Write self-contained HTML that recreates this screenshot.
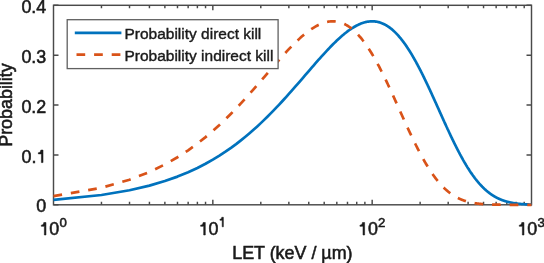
<!DOCTYPE html>
<html><head><meta charset="utf-8"><style>
html,body{margin:0;padding:0;background:#fff;overflow:hidden;}
svg{display:block;filter:blur(0.6px);}
text{font-family:"Liberation Sans",sans-serif;fill:#1a1a1a;stroke:#1a1a1a;stroke-width:0.55px;}
.g{fill:#1a1a1a;stroke:#1a1a1a;stroke-width:0.55px;vector-effect:non-scaling-stroke;}
</style></head><body>
<svg width="544" height="263" viewBox="0 0 544 263">
<rect x="0" y="0" width="544" height="263" fill="#fff"/>
<rect x="53.5" y="5.3" width="478.0" height="199.5" fill="none" stroke="#4a4a4a" stroke-width="1.45"/>
<path d="M53.50,204.80h5 M531.50,204.80h-5 M53.50,154.93h5 M531.50,154.93h-5 M53.50,105.05h5 M531.50,105.05h-5 M53.50,55.17h5 M531.50,55.17h-5 M53.50,5.30h5 M531.50,5.30h-5 M101.46,204.80v-3 M101.46,5.30v3 M129.52,204.80v-3 M129.52,5.30v3 M149.43,204.80v-3 M149.43,5.30v3 M164.87,204.80v-3 M164.87,5.30v3 M177.49,204.80v-3 M177.49,5.30v3 M188.15,204.80v-3 M188.15,5.30v3 M197.39,204.80v-3 M197.39,5.30v3 M205.54,204.80v-3 M205.54,5.30v3 M212.83,204.80v-5 M212.83,5.30v5 M260.80,204.80v-3 M260.80,5.30v3 M288.85,204.80v-3 M288.85,5.30v3 M308.76,204.80v-3 M308.76,5.30v3 M324.20,204.80v-3 M324.20,5.30v3 M336.82,204.80v-3 M336.82,5.30v3 M347.49,204.80v-3 M347.49,5.30v3 M356.73,204.80v-3 M356.73,5.30v3 M364.88,204.80v-3 M364.88,5.30v3 M372.17,204.80v-5 M372.17,5.30v5 M420.13,204.80v-3 M420.13,5.30v3 M448.19,204.80v-3 M448.19,5.30v3 M468.09,204.80v-3 M468.09,5.30v3 M483.54,204.80v-3 M483.54,5.30v3 M496.15,204.80v-3 M496.15,5.30v3 M506.82,204.80v-3 M506.82,5.30v3 M516.06,204.80v-3 M516.06,5.30v3 M524.21,204.80v-3 M524.21,5.30v3" fill="none" stroke="#4a4a4a" stroke-width="1.45"/>
<path d="M53.50,199.86 L101.46,195.02 L129.52,190.28 L149.43,185.63 L164.87,181.08 L177.49,176.62 L188.15,172.25 L197.39,167.97 L205.54,163.78 L212.83,159.67 L219.43,155.65 L225.45,151.72 L230.99,147.87 L236.12,144.10 L240.89,140.41 L245.36,136.80 L249.55,133.27 L253.51,129.81 L257.25,126.44 L260.80,123.13 L264.17,119.90 L267.39,116.74 L270.47,113.66 L273.41,110.64 L276.24,107.69 L278.95,104.81 L281.56,102.00 L284.08,99.25 L286.51,96.57 L288.85,93.96 L291.12,91.40 L293.32,88.91 L295.45,86.47 L297.52,84.10 L299.52,81.79 L301.47,79.53 L303.37,77.33 L305.21,75.19 L307.01,73.10 L308.76,71.07 L310.47,69.09 L312.14,67.17 L313.77,65.29 L315.36,63.47 L316.91,61.69 L318.43,59.97 L319.92,58.29 L321.38,56.66 L322.80,55.08 L324.20,53.55 L325.57,52.06 L326.92,50.61 L328.23,49.21 L329.53,47.85 L330.80,46.54 L332.04,45.26 L333.27,44.03 L334.47,42.84 L335.66,41.68 L336.82,40.57 L337.96,39.49 L339.09,38.45 L340.19,37.45 L341.28,36.49 L342.36,35.56 L343.41,34.67 L344.45,33.81 L345.48,32.98 L346.49,32.19 L347.49,31.43 L348.47,30.70 L349.43,30.01 L350.39,29.34 L351.33,28.71 L352.26,28.11 L353.18,27.53 L354.08,26.99 L354.97,26.47 L355.86,25.98 L356.73,25.52 L357.59,25.08 L358.43,24.67 L359.27,24.29 L360.10,23.93 L360.92,23.60 L361.73,23.30 L362.53,23.01 L363.32,22.75 L364.10,22.52 L364.88,22.30 L365.64,22.11 L366.40,21.94 L367.14,21.79 L367.89,21.66 L368.62,21.56 L369.34,21.47 L370.06,21.40 L370.77,21.36 L371.47,21.33 L372.17,21.32 L372.86,21.33 L373.54,21.36 L374.21,21.40 L374.88,21.46 L375.54,21.54 L376.20,21.64 L376.85,21.75 L377.49,21.88 L378.13,22.02 L378.76,22.18 L379.39,22.35 L380.01,22.54 L380.62,22.74 L381.23,22.96 L381.84,23.19 L382.44,23.43 L383.03,23.69 L383.62,23.96 L384.20,24.24 L384.78,24.54 L385.36,24.84 L385.93,25.16 L386.49,25.49 L387.05,25.83 L387.61,26.18 L388.16,26.54 L388.71,26.92 L389.25,27.30 L389.79,27.69 L390.32,28.10 L390.85,28.51 L391.38,28.93 L391.90,29.36 L392.42,29.80 L392.93,30.25 L393.44,30.71 L393.95,31.17 L394.45,31.64 L394.95,32.13 L395.45,32.61 L395.94,33.11 L396.43,33.61 L396.92,34.12 L397.40,34.64 L397.88,35.16 L398.35,35.69 L398.83,36.23 L399.30,36.77 L399.76,37.32 L400.22,37.87 L400.68,38.43 L401.14,38.99 L401.59,39.56 L402.04,40.14 L402.49,40.72 L402.94,41.30 L403.38,41.89 L403.82,42.49 L404.26,43.08 L404.69,43.69 L405.12,44.29 L405.55,44.90 L405.98,45.52 L406.40,46.13 L406.82,46.75 L407.24,47.38 L407.65,48.01 L408.07,48.64 L408.48,49.27 L408.88,49.91 L409.29,50.55 L409.69,51.19 L410.10,51.83 L410.49,52.48 L410.89,53.13 L411.29,53.78 L411.68,54.43 L412.07,55.09 L412.45,55.74 L412.84,56.40 L413.22,57.06 L413.60,57.73 L413.98,58.39 L414.36,59.05 L414.74,59.72 L415.11,60.39 L415.48,61.05 L415.85,61.72 L416.22,62.39 L416.58,63.07 L416.94,63.74 L417.31,64.41 L417.67,65.08 L418.02,65.76 L418.38,66.43 L418.73,67.10 L419.08,67.78 L419.44,68.45 L419.78,69.13 L420.13,69.80 L420.48,70.48 L420.82,71.15 L421.16,71.83 L421.50,72.50 L421.84,73.18 L422.18,73.85 L422.51,74.52 L422.84,75.20 L423.18,75.87 L423.51,76.54 L423.84,77.21 L424.16,77.88 L424.49,78.55 L424.81,79.22 L425.14,79.89 L425.46,80.56 L425.78,81.23 L426.09,81.89 L426.41,82.56 L426.73,83.22 L427.04,83.88 L427.35,84.55 L427.66,85.21 L427.97,85.86 L428.28,86.52 L428.59,87.18 L428.89,87.83 L429.20,88.49 L429.50,89.14 L429.80,89.79 L430.10,90.44 L430.40,91.09 L430.70,91.73 L431.00,92.38 L431.29,93.02 L431.58,93.66 L431.88,94.30 L432.17,94.94 L432.46,95.58 L432.75,96.21 L433.03,96.84 L433.32,97.47 L433.61,98.10 L433.89,98.73 L434.17,99.35 L434.46,99.98 L434.74,100.60 L435.02,101.22 L435.29,101.84 L435.57,102.45 L435.85,103.06 L436.12,103.67 L436.40,104.28 L436.67,104.89 L436.94,105.49 L437.21,106.10 L437.48,106.70 L437.75,107.30 L438.02,107.89 L438.29,108.49 L438.55,109.08 L438.82,109.67 L439.08,110.25 L439.34,110.84 L439.60,111.42 L439.86,112.00 L440.12,112.58 L440.38,113.16 L440.64,113.73 L440.90,114.30 L441.15,114.87 L441.41,115.43 L441.66,116.00 L441.91,116.56 L442.17,117.12 L442.42,117.68 L442.67,118.23 L442.92,118.78 L443.17,119.33 L443.41,119.88 L443.66,120.42 L443.91,120.97 L444.15,121.51 L444.40,122.04 L444.64,122.58 L444.88,123.11 L445.12,123.64 L445.36,124.17 L445.60,124.69 L445.84,125.22 L446.08,125.74 L446.32,126.25 L446.55,126.77 L446.79,127.28 L447.02,127.79 L447.26,128.30 L447.49,128.81 L447.73,129.31 L447.96,129.81 L448.19,130.31 L448.42,130.80 L448.65,131.29 L448.88,131.78 L449.10,132.27 L449.33,132.76 L449.56,133.24 L449.78,133.72 L450.01,134.20 L450.23,134.68 L450.46,135.15 L450.68,135.62 L450.90,136.09 L451.12,136.55 L451.34,137.02 L451.56,137.48 L451.78,137.93 L452.00,138.39 L452.22,138.84 L452.44,139.30 L452.65,139.74 L452.87,140.19 L453.09,140.63 L453.30,141.07 L453.51,141.51 L453.73,141.95 L453.94,142.38 L454.15,142.81 L454.36,143.24 L454.57,143.67 L454.78,144.09 L454.99,144.52 L455.20,144.94 L455.41,145.35 L455.62,145.77 L455.82,146.18 L456.03,146.59 L456.24,147.00 L456.44,147.40 L456.65,147.81 L456.85,148.21 L457.05,148.61 L457.25,149.00 L457.46,149.40 L457.66,149.79 L457.86,150.18 L458.06,150.56 L458.26,150.95 L458.46,151.33 L458.66,151.71 L458.85,152.09 L459.05,152.46 L459.25,152.84 L459.45,153.21 L459.64,153.57 L459.84,153.94 L460.03,154.31 L460.23,154.67 L460.42,155.03 L460.61,155.38 L460.80,155.74 L461.00,156.09 L461.19,156.44 L461.38,156.79 L461.57,157.14 L461.76,157.48 L461.95,157.83 L462.14,158.17 L462.33,158.51 L462.51,158.84 L462.70,159.18 L462.89,159.51 L463.07,159.84 L463.26,160.17 L463.44,160.49 L463.63,160.81 L463.81,161.14 L464.00,161.46 L464.18,161.77 L464.36,162.09 L464.55,162.40 L464.73,162.71 L464.91,163.02 L465.09,163.33 L465.27,163.64 L465.45,163.94 L465.63,164.24 L465.81,164.54 L465.99,164.84 L466.17,165.13 L466.34,165.43 L466.52,165.72 L466.70,166.01 L466.87,166.30 L467.05,166.58 L467.22,166.87 L467.40,167.15 L467.57,167.43 L467.75,167.71 L467.92,167.99 L468.09,168.26 L468.27,168.53 L468.44,168.80 L468.61,169.07 L468.78,169.34 L468.95,169.61 L469.13,169.87 L469.30,170.13 L469.47,170.39 L469.63,170.65 L469.80,170.91 L469.97,171.17 L470.14,171.42 L470.31,171.67 L470.48,171.92 L470.64,172.17 L470.81,172.42 L470.98,172.66 L471.14,172.91 L471.31,173.15 L471.47,173.39 L471.64,173.63 L471.80,173.86 L471.96,174.10 L472.13,174.33 L472.29,174.56 L472.45,174.79 L472.61,175.02 L472.78,175.25 L472.94,175.48 L473.10,175.70 L473.26,175.92 L473.42,176.14 L473.58,176.36 L473.74,176.58 L473.90,176.80 L474.06,177.01 L474.22,177.23 L474.37,177.44 L474.53,177.65 L474.69,177.86 L474.85,178.06 L475.00,178.27 L475.16,178.48 L475.32,178.68 L475.47,178.88 L475.63,179.08 L475.78,179.28 L475.94,179.48 L476.09,179.67 L476.25,179.87 L476.40,180.06 L476.55,180.25 L476.70,180.44 L476.86,180.63 L477.01,180.82 L477.16,181.01 L477.31,181.19 L477.46,181.37 L477.62,181.56 L477.77,181.74 L477.92,181.92 L478.07,182.10 L478.22,182.27 L478.37,182.45 L478.51,182.62 L478.66,182.80 L478.81,182.97 L478.96,183.14 L479.11,183.31 L479.25,183.48 L479.40,183.65 L479.55,183.81 L479.69,183.98 L479.84,184.14 L479.99,184.30 L480.13,184.46 L480.28,184.62 L480.42,184.78 L480.57,184.94 L480.71,185.10 L480.86,185.25 L481.00,185.41 L481.14,185.56 L481.29,185.71 L481.43,185.86 L481.57,186.01 L481.71,186.16 L481.85,186.31 L482.00,186.46 L482.14,186.60 L482.28,186.75 L482.42,186.89 L482.56,187.03 L482.70,187.17 L482.84,187.31 L482.98,187.45 L483.12,187.59 L483.26,187.73 L483.40,187.86 L483.54,188.00 L483.67,188.13 L483.81,188.26 L483.95,188.40 L484.09,188.53 L484.22,188.66 L484.36,188.79 L484.50,188.91 L484.63,189.04 L484.77,189.17 L484.91,189.29 L485.04,189.42 L485.18,189.54 L485.31,189.66 L485.45,189.78 L485.58,189.90 L485.72,190.02 L485.85,190.14 L485.98,190.26 L486.12,190.38 L486.25,190.49 L486.38,190.61 L486.52,190.72 L486.65,190.84 L486.78,190.95 L486.91,191.06 L487.04,191.17 L487.18,191.28 L487.31,191.39 L487.44,191.50 L487.57,191.61 L487.70,191.71 L487.83,191.82 L487.96,191.92 L488.09,192.03 L488.22,192.13 L488.35,192.23 L488.48,192.33 L488.60,192.44 L488.73,192.54 L488.86,192.64 L488.99,192.73 L489.12,192.83 L489.24,192.93 L489.37,193.03 L489.50,193.12 L489.63,193.22 L489.75,193.31 L489.88,193.40 L490.01,193.50 L490.13,193.59 L490.26,193.68 L490.38,193.77 L490.51,193.86 L490.63,193.95 L490.76,194.04 L490.88,194.13 L491.01,194.21 L491.13,194.30 L491.25,194.39 L491.38,194.47 L491.50,194.56 L491.62,194.64 L491.75,194.72 L491.87,194.81 L491.99,194.89 L492.12,194.97 L492.24,195.05 L492.36,195.13 L492.48,195.21 L492.60,195.29 L492.72,195.37 L492.85,195.44 L492.97,195.52 L493.09,195.60 L493.21,195.67 L493.33,195.75 L493.45,195.82 L493.57,195.90 L493.69,195.97 L493.81,196.04 L493.93,196.11 L494.04,196.19 L494.16,196.26 L494.28,196.33 L494.40,196.40 L494.52,196.47 L494.64,196.54 L494.75,196.60 L494.87,196.67 L494.99,196.74 L495.11,196.81 L495.22,196.87 L495.34,196.94 L495.46,197.00 L495.57,197.07 L495.69,197.13 L495.81,197.19 L495.92,197.26 L496.04,197.32 L496.15,197.38 L496.27,197.44 L496.38,197.50 L496.50,197.57 L496.61,197.63 L496.73,197.69 L496.84,197.74 L496.95,197.80 L497.07,197.86 L497.18,197.92 L497.30,197.98 L497.41,198.03 L497.52,198.09 L497.64,198.15 L497.75,198.20 L497.86,198.26 L497.97,198.31 L498.09,198.36 L498.20,198.42 L498.31,198.47 L498.42,198.52 L498.53,198.58 L498.64,198.63 L498.76,198.68 L498.87,198.73 L498.98,198.78 L499.09,198.83 L499.20,198.88 L499.31,198.93 L499.42,198.98 L499.53,199.03 L499.64,199.08 L499.75,199.13 L499.86,199.17 L499.97,199.22 L500.08,199.27 L500.18,199.31 L500.29,199.36 L500.40,199.41 L500.51,199.45 L500.62,199.50 L500.73,199.54 L500.83,199.59 L500.94,199.63 L501.05,199.67 L501.16,199.72 L501.26,199.76 L501.37,199.80 L501.48,199.84 L501.58,199.88 L501.69,199.93 L501.80,199.97 L501.90,200.01 L502.01,200.05 L502.12,200.09 L502.22,200.13 L502.33,200.17 L502.43,200.21 L502.54,200.25 L502.64,200.28 L502.75,200.32 L502.85,200.36 L502.96,200.40 L503.06,200.43 L503.17,200.47 L503.27,200.51 L503.37,200.54 L503.48,200.58 L503.58,200.62 L503.68,200.65 L503.79,200.69 L503.89,200.72 L503.99,200.76 L504.10,200.79 L504.20,200.82 L504.30,200.86 L504.40,200.89 L504.51,200.92 L504.61,200.96 L504.71,200.99 L504.81,201.02 L504.91,201.05 L505.02,201.09 L505.12,201.12 L505.22,201.15 L505.32,201.18 L505.42,201.21 L505.52,201.24 L505.62,201.27 L505.72,201.30 L505.82,201.33 L505.92,201.36 L506.02,201.39 L506.12,201.42 L506.22,201.45 L506.32,201.48 L506.42,201.51 L506.52,201.53 L506.62,201.56 L506.72,201.59 L506.82,201.62 L506.92,201.64 L507.02,201.67 L507.11,201.70 L507.21,201.72 L507.31,201.75 L507.41,201.78 L507.51,201.80 L507.61,201.83 L507.70,201.85 L507.80,201.88 L507.90,201.90 L508.00,201.93 L508.09,201.95 L508.19,201.98 L508.29,202.00 L508.38,202.03 L508.48,202.05 L508.58,202.07 L508.67,202.10 L508.77,202.12 L508.86,202.14 L508.96,202.16 L509.06,202.19 L509.15,202.21 L509.25,202.23 L509.34,202.25 L509.44,202.28 L509.53,202.30 L509.63,202.32 L509.72,202.34 L509.82,202.36 L509.91,202.38 L510.01,202.40 L510.10,202.42 L510.20,202.44 L510.29,202.46 L510.38,202.48 L510.48,202.50 L510.57,202.52 L510.66,202.54 L510.76,202.56 L510.85,202.58 L510.94,202.60 L511.04,202.62 L511.13,202.64 L511.22,202.66 L511.32,202.68 L511.41,202.69 L511.50,202.71 L511.59,202.73 L511.69,202.75 L511.78,202.77 L511.87,202.78 L511.96,202.80 L512.05,202.82 L512.14,202.84 L512.24,202.85 L512.33,202.87 L512.42,202.89 L512.51,202.90 L512.60,202.92 L512.69,202.94 L512.78,202.95 L512.87,202.97 L512.96,202.98 L513.05,203.00 L513.14,203.01 L513.23,203.03 L513.32,203.05 L513.41,203.06 L513.50,203.08 L513.59,203.09 L513.68,203.11 L513.77,203.12 L513.86,203.14 L513.95,203.15 L514.04,203.16 L514.13,203.18 L514.22,203.19 L514.31,203.21 L514.40,203.22 L514.48,203.23 L514.57,203.25 L514.66,203.26 L514.75,203.27 L514.84,203.29 L514.93,203.30 L515.01,203.31 L515.10,203.33 L515.19,203.34 L515.28,203.35 L515.36,203.36 L515.45,203.38 L515.54,203.39 L515.63,203.40 L515.71,203.41 L515.80,203.43 L515.89,203.44 L515.97,203.45 L516.06,203.46 L516.15,203.47 L516.23,203.48 L516.32,203.50 L516.40,203.51 L516.49,203.52 L516.58,203.53 L516.66,203.54 L516.75,203.55 L516.83,203.56 L516.92,203.57 L517.00,203.58 L517.09,203.60 L517.17,203.61 L517.26,203.62 L517.34,203.63 L517.43,203.64 L517.51,203.65 L517.60,203.66 L517.68,203.67 L517.77,203.68 L517.85,203.69 L517.94,203.70 L518.02,203.71 L518.10,203.72 L518.19,203.73 L518.27,203.73 L518.36,203.74 L518.44,203.75 L518.52,203.76 L518.61,203.77 L518.69,203.78 L518.77,203.79 L518.86,203.80 L518.94,203.81 L519.02,203.82 L519.10,203.82 L519.19,203.83 L519.27,203.84 L519.35,203.85 L519.44,203.86 L519.52,203.87 L519.60,203.87 L519.68,203.88 L519.76,203.89 L519.85,203.90 L519.93,203.91 L520.01,203.91 L520.09,203.92 L520.17,203.93 L520.25,203.94 L520.34,203.94 L520.42,203.95 L520.50,203.96 L520.58,203.97 L520.66,203.97 L520.74,203.98 L520.82,203.99 L520.90,204.00 L520.98,204.00 L521.06,204.01 L521.14,204.02 L521.22,204.02 L521.30,204.03 L521.38,204.04 L521.46,204.04 L521.54,204.05 L521.62,204.06 L521.70,204.06 L521.78,204.07 L521.86,204.08 L521.94,204.08 L522.02,204.09 L522.10,204.10 L522.18,204.10 L522.26,204.11 L522.34,204.11 L522.42,204.12 L522.50,204.13 L522.58,204.13 L522.65,204.14 L522.73,204.14 L522.81,204.15 L522.89,204.16 L522.97,204.16 L523.05,204.17 L523.12,204.17 L523.20,204.18 L523.28,204.18 L523.36,204.19 L523.44,204.19 L523.51,204.20 L523.59,204.21 L523.67,204.21 L523.75,204.22 L523.82,204.22 L523.90,204.23 L523.98,204.23 L524.06,204.24 L524.13,204.24 L524.21,204.25 L524.29,204.25 L524.36,204.26 L524.44,204.26 L524.52,204.27 L524.59,204.27 L524.67,204.27 L524.75,204.28 L524.82,204.28 L524.90,204.29 L524.97,204.29 L525.05,204.30 L525.13,204.30 L525.20,204.31 L525.28,204.31 L525.35,204.32 L525.43,204.32 L525.50,204.32 L525.58,204.33 L525.65,204.33 L525.73,204.34 L525.81,204.34 L525.88,204.34 L525.96,204.35 L526.03,204.35 L526.11,204.36 L526.18,204.36 L526.25,204.36 L526.33,204.37 L526.40,204.37 L526.48,204.38 L526.55,204.38 L526.63,204.38 L526.70,204.39 L526.78,204.39 L526.85,204.39 L526.92,204.40 L527.00,204.40 L527.07,204.41 L527.14,204.41 L527.22,204.41 L527.29,204.42 L527.37,204.42 L527.44,204.42 L527.51,204.43 L527.59,204.43 L527.66,204.43 L527.73,204.44 L527.80,204.44 L527.88,204.44 L527.95,204.45 L528.02,204.45 L528.10,204.45 L528.17,204.45 L528.24,204.46 L528.31,204.46 L528.39,204.46 L528.46,204.47 L528.53,204.47 L528.60,204.47 L528.68,204.48 L528.75,204.48 L528.82,204.48 L528.89,204.48 L528.96,204.49 L529.03,204.49 L529.11,204.49 L529.18,204.50 L529.25,204.50 L529.32,204.50 L529.39,204.50 L529.46,204.51 L529.53,204.51 L529.61,204.51 L529.68,204.51 L529.75,204.52 L529.82,204.52 L529.89,204.52 L529.96,204.52 L530.03,204.53 L530.10,204.53 L530.17,204.53 L530.24,204.53 L530.31,204.54 L530.38,204.54 L530.45,204.54 L530.52,204.54 L530.59,204.55 L530.66,204.55 L530.73,204.55 L530.80,204.55 L530.87,204.55 L530.94,204.56 L531.01,204.56 L531.08,204.56 L531.15,204.56 L531.22,204.57 L531.29,204.57 L531.36,204.57 L531.43,204.57 L531.50,204.57" fill="none" stroke="#0072BD" stroke-width="2.7" stroke-linejoin="round"/>
<path d="M53.50,196.14 L101.46,187.79 L129.52,179.73 L149.43,171.96 L164.87,164.47 L177.49,157.25 L188.15,150.29 L197.39,143.60 L205.54,137.15 L212.83,130.95 L219.43,124.99 L225.45,119.26 L230.99,113.75 L236.12,108.47 L240.89,103.39 L245.36,98.53 L249.55,93.86 L253.51,89.40 L257.25,85.12 L260.80,81.02 L264.17,77.11 L267.39,73.37 L270.47,69.81 L273.41,66.40 L276.24,63.16 L278.95,60.08 L281.56,57.14 L284.08,54.35 L286.51,51.71 L288.85,49.20 L291.12,46.83 L293.32,44.59 L295.45,42.48 L297.52,40.49 L299.52,38.62 L301.47,36.87 L303.37,35.22 L305.21,33.69 L307.01,32.26 L308.76,30.94 L310.47,29.71 L312.14,28.58 L313.77,27.55 L315.36,26.60 L316.91,25.74 L318.43,24.97 L319.92,24.28 L321.38,23.67 L322.80,23.13 L324.20,22.67 L325.57,22.28 L326.92,21.96 L328.23,21.71 L329.53,21.52 L330.80,21.39 L332.04,21.33 L333.27,21.32 L334.47,21.38 L335.66,21.48 L336.82,21.64 L337.96,21.85 L339.09,22.10 L340.19,22.41 L341.28,22.76 L342.36,23.15 L343.41,23.59 L344.45,24.06 L345.48,24.58 L346.49,25.13 L347.49,25.72 L348.47,26.34 L349.43,27.00 L350.39,27.68 L351.33,28.40 L352.26,29.15 L353.18,29.92 L354.08,30.73 L354.97,31.55 L355.86,32.41 L356.73,33.28 L357.59,34.18 L358.43,35.10 L359.27,36.04 L360.10,36.99 L360.92,37.97 L361.73,38.96 L362.53,39.97 L363.32,41.00 L364.10,42.04 L364.88,43.09 L365.64,44.16 L366.40,45.24 L367.14,46.33 L367.89,47.43 L368.62,48.54 L369.34,49.66 L370.06,50.79 L370.77,51.93 L371.47,53.07 L372.17,54.22 L372.86,55.38 L373.54,56.54 L374.21,57.71 L374.88,58.88 L375.54,60.06 L376.20,61.24 L376.85,62.42 L377.49,63.61 L378.13,64.80 L378.76,65.99 L379.39,67.18 L380.01,68.37 L380.62,69.56 L381.23,70.76 L381.84,71.95 L382.44,73.14 L383.03,74.33 L383.62,75.52 L384.20,76.71 L384.78,77.89 L385.36,79.08 L385.93,80.26 L386.49,81.44 L387.05,82.61 L387.61,83.78 L388.16,84.95 L388.71,86.12 L389.25,87.28 L389.79,88.43 L390.32,89.58 L390.85,90.73 L391.38,91.87 L391.90,93.01 L392.42,94.14 L392.93,95.27 L393.44,96.39 L393.95,97.50 L394.45,98.61 L394.95,99.72 L395.45,100.82 L395.94,101.91 L396.43,102.99 L396.92,104.07 L397.40,105.14 L397.88,106.21 L398.35,107.27 L398.83,108.32 L399.30,109.36 L399.76,110.40 L400.22,111.43 L400.68,112.46 L401.14,113.47 L401.59,114.48 L402.04,115.48 L402.49,116.48 L402.94,117.46 L403.38,118.44 L403.82,119.41 L404.26,120.38 L404.69,121.34 L405.12,122.29 L405.55,123.23 L405.98,124.16 L406.40,125.09 L406.82,126.01 L407.24,126.92 L407.65,127.82 L408.07,128.71 L408.48,129.60 L408.88,130.48 L409.29,131.35 L409.69,132.22 L410.10,133.07 L410.49,133.92 L410.89,134.76 L411.29,135.60 L411.68,136.42 L412.07,137.24 L412.45,138.05 L412.84,138.85 L413.22,139.65 L413.60,140.44 L413.98,141.22 L414.36,141.99 L414.74,142.75 L415.11,143.51 L415.48,144.26 L415.85,145.00 L416.22,145.74 L416.58,146.46 L416.94,147.18 L417.31,147.90 L417.67,148.60 L418.02,149.30 L418.38,149.99 L418.73,150.67 L419.08,151.35 L419.44,152.02 L419.78,152.68 L420.13,153.34 L420.48,153.99 L420.82,154.63 L421.16,155.26 L421.50,155.89 L421.84,156.51 L422.18,157.13 L422.51,157.73 L422.84,158.33 L423.18,158.93 L423.51,159.52 L423.84,160.10 L424.16,160.67 L424.49,161.24 L424.81,161.80 L425.14,162.36 L425.46,162.91 L425.78,163.45 L426.09,163.99 L426.41,164.52 L426.73,165.04 L427.04,165.56 L427.35,166.07 L427.66,166.58 L427.97,167.08 L428.28,167.58 L428.59,168.07 L428.89,168.55 L429.20,169.03 L429.50,169.50 L429.80,169.97 L430.10,170.43 L430.40,170.88 L430.70,171.33 L431.00,171.78 L431.29,172.22 L431.58,172.65 L431.88,173.08 L432.17,173.51 L432.46,173.93 L432.75,174.34 L433.03,174.75 L433.32,175.15 L433.61,175.55 L433.89,175.94 L434.17,176.33 L434.46,176.72 L434.74,177.10 L435.02,177.47 L435.29,177.84 L435.57,178.21 L435.85,178.57 L436.12,178.93 L436.40,179.28 L436.67,179.63 L436.94,179.97 L437.21,180.31 L437.48,180.64 L437.75,180.97 L438.02,181.30 L438.29,181.62 L438.55,181.94 L438.82,182.26 L439.08,182.57 L439.34,182.87 L439.60,183.18 L439.86,183.47 L440.12,183.77 L440.38,184.06 L440.64,184.35 L440.90,184.63 L441.15,184.91 L441.41,185.19 L441.66,185.46 L441.91,185.73 L442.17,185.99 L442.42,186.26 L442.67,186.51 L442.92,186.77 L443.17,187.02 L443.41,187.27 L443.66,187.52 L443.91,187.76 L444.15,188.00 L444.40,188.23 L444.64,188.47 L444.88,188.70 L445.12,188.92 L445.36,189.15 L445.60,189.37 L445.84,189.58 L446.08,189.80 L446.32,190.01 L446.55,190.22 L446.79,190.43 L447.02,190.63 L447.26,190.83 L447.49,191.03 L447.73,191.23 L447.96,191.42 L448.19,191.61 L448.42,191.80 L448.65,191.98 L448.88,192.16 L449.10,192.35 L449.33,192.52 L449.56,192.70 L449.78,192.87 L450.01,193.04 L450.23,193.21 L450.46,193.38 L450.68,193.54 L450.90,193.70 L451.12,193.86 L451.34,194.02 L451.56,194.17 L451.78,194.33 L452.00,194.48 L452.22,194.63 L452.44,194.77 L452.65,194.92 L452.87,195.06 L453.09,195.20 L453.30,195.34 L453.51,195.48 L453.73,195.61 L453.94,195.75 L454.15,195.88 L454.36,196.01 L454.57,196.13 L454.78,196.26 L454.99,196.38 L455.20,196.51 L455.41,196.63 L455.62,196.75 L455.82,196.86 L456.03,196.98 L456.24,197.09 L456.44,197.21 L456.65,197.32 L456.85,197.43 L457.05,197.53 L457.25,197.64 L457.46,197.74 L457.66,197.85 L457.86,197.95 L458.06,198.05 L458.26,198.15 L458.46,198.25 L458.66,198.34 L458.85,198.44 L459.05,198.53 L459.25,198.62 L459.45,198.72 L459.64,198.80 L459.84,198.89 L460.03,198.98 L460.23,199.07 L460.42,199.15 L460.61,199.23 L460.80,199.32 L461.00,199.40 L461.19,199.48 L461.38,199.56 L461.57,199.63 L461.76,199.71 L461.95,199.79 L462.14,199.86 L462.33,199.93 L462.51,200.01 L462.70,200.08 L462.89,200.15 L463.07,200.22 L463.26,200.28 L463.44,200.35 L463.63,200.42 L463.81,200.48 L464.00,200.55 L464.18,200.61 L464.36,200.67 L464.55,200.73 L464.73,200.80 L464.91,200.86 L465.09,200.91 L465.27,200.97 L465.45,201.03 L465.63,201.09 L465.81,201.14 L465.99,201.20 L466.17,201.25 L466.34,201.30 L466.52,201.36 L466.70,201.41 L466.87,201.46 L467.05,201.51 L467.22,201.56 L467.40,201.61 L467.57,201.65 L467.75,201.70 L467.92,201.75 L468.09,201.79 L468.27,201.84 L468.44,201.88 L468.61,201.93 L468.78,201.97 L468.95,202.01 L469.13,202.06 L469.30,202.10 L469.47,202.14 L469.63,202.18 L469.80,202.22 L469.97,202.26 L470.14,202.30 L470.31,202.33 L470.48,202.37 L470.64,202.41 L470.81,202.44 L470.98,202.48 L471.14,202.51 L471.31,202.55 L471.47,202.58 L471.64,202.62 L471.80,202.65 L471.96,202.68 L472.13,202.72 L472.29,202.75 L472.45,202.78 L472.61,202.81 L472.78,202.84 L472.94,202.87 L473.10,202.90 L473.26,202.93 L473.42,202.96 L473.58,202.98 L473.74,203.01 L473.90,203.04 L474.06,203.07 L474.22,203.09 L474.37,203.12 L474.53,203.14 L474.69,203.17 L474.85,203.19 L475.00,203.22 L475.16,203.24 L475.32,203.27 L475.47,203.29 L475.63,203.31 L475.78,203.34 L475.94,203.36 L476.09,203.38 L476.25,203.40 L476.40,203.42 L476.55,203.44 L476.70,203.47 L476.86,203.49 L477.01,203.51 L477.16,203.53 L477.31,203.55 L477.46,203.56 L477.62,203.58 L477.77,203.60 L477.92,203.62 L478.07,203.64 L478.22,203.66 L478.37,203.67 L478.51,203.69 L478.66,203.71 L478.81,203.73 L478.96,203.74 L479.11,203.76 L479.25,203.77 L479.40,203.79 L479.55,203.81 L479.69,203.82 L479.84,203.84 L479.99,203.85 L480.13,203.87 L480.28,203.88 L480.42,203.89 L480.57,203.91 L480.71,203.92 L480.86,203.94 L481.00,203.95 L481.14,203.96 L481.29,203.98 L481.43,203.99 L481.57,204.00 L481.71,204.01 L481.85,204.03 L482.00,204.04 L482.14,204.05 L482.28,204.06 L482.42,204.07 L482.56,204.08 L482.70,204.09 L482.84,204.11 L482.98,204.12 L483.12,204.13 L483.26,204.14 L483.40,204.15 L483.54,204.16 L483.67,204.17 L483.81,204.18 L483.95,204.19 L484.09,204.20 L484.22,204.21 L484.36,204.22 L484.50,204.22 L484.63,204.23 L484.77,204.24 L484.91,204.25 L485.04,204.26 L485.18,204.27 L485.31,204.28 L485.45,204.28 L485.58,204.29 L485.72,204.30 L485.85,204.31 L485.98,204.32 L486.12,204.32 L486.25,204.33 L486.38,204.34 L486.52,204.35 L486.65,204.35 L486.78,204.36 L486.91,204.37 L487.04,204.37 L487.18,204.38 L487.31,204.39 L487.44,204.39 L487.57,204.40 L487.70,204.41 L487.83,204.41 L487.96,204.42 L488.09,204.42 L488.22,204.43 L488.35,204.44 L488.48,204.44 L488.60,204.45 L488.73,204.45 L488.86,204.46 L488.99,204.46 L489.12,204.47 L489.24,204.47 L489.37,204.48 L489.50,204.48 L489.63,204.49 L489.75,204.49 L489.88,204.50 L490.01,204.50 L490.13,204.51 L490.26,204.51 L490.38,204.52 L490.51,204.52 L490.63,204.53 L490.76,204.53 L490.88,204.53 L491.01,204.54 L491.13,204.54 L491.25,204.55 L491.38,204.55 L491.50,204.55 L491.62,204.56 L491.75,204.56 L491.87,204.57 L491.99,204.57 L492.12,204.57 L492.24,204.58 L492.36,204.58 L492.48,204.58 L492.60,204.59 L492.72,204.59 L492.85,204.59 L492.97,204.60 L493.09,204.60 L493.21,204.60 L493.33,204.61 L493.45,204.61 L493.57,204.61 L493.69,204.62 L493.81,204.62 L493.93,204.62 L494.04,204.62 L494.16,204.63 L494.28,204.63 L494.40,204.63 L494.52,204.64 L494.64,204.64 L494.75,204.64 L494.87,204.64 L494.99,204.65 L495.11,204.65 L495.22,204.65 L495.34,204.65 L495.46,204.66 L495.57,204.66 L495.69,204.66 L495.81,204.66 L495.92,204.66 L496.04,204.67 L496.15,204.67 L496.27,204.67 L496.38,204.67 L496.50,204.67 L496.61,204.68 L496.73,204.68 L496.84,204.68 L496.95,204.68 L497.07,204.68 L497.18,204.69 L497.30,204.69 L497.41,204.69 L497.52,204.69 L497.64,204.69 L497.75,204.69 L497.86,204.70 L497.97,204.70 L498.09,204.70 L498.20,204.70 L498.31,204.70 L498.42,204.70 L498.53,204.71 L498.64,204.71 L498.76,204.71 L498.87,204.71 L498.98,204.71 L499.09,204.71 L499.20,204.71 L499.31,204.72 L499.42,204.72 L499.53,204.72 L499.64,204.72 L499.75,204.72 L499.86,204.72 L499.97,204.72 L500.08,204.72 L500.18,204.73 L500.29,204.73 L500.40,204.73 L500.51,204.73 L500.62,204.73 L500.73,204.73 L500.83,204.73 L500.94,204.73 L501.05,204.74 L501.16,204.74 L501.26,204.74 L501.37,204.74 L501.48,204.74 L501.58,204.74 L501.69,204.74 L501.80,204.74 L501.90,204.74 L502.01,204.74 L502.12,204.74 L502.22,204.75 L502.33,204.75 L502.43,204.75 L502.54,204.75 L502.64,204.75 L502.75,204.75 L502.85,204.75 L502.96,204.75 L503.06,204.75 L503.17,204.75 L503.27,204.75 L503.37,204.75 L503.48,204.76 L503.58,204.76 L503.68,204.76 L503.79,204.76 L503.89,204.76 L503.99,204.76 L504.10,204.76 L504.20,204.76 L504.30,204.76 L504.40,204.76 L504.51,204.76 L504.61,204.76 L504.71,204.76 L504.81,204.76 L504.91,204.76 L505.02,204.76 L505.12,204.77 L505.22,204.77 L505.32,204.77 L505.42,204.77 L505.52,204.77 L505.62,204.77 L505.72,204.77 L505.82,204.77 L505.92,204.77 L506.02,204.77 L506.12,204.77 L506.22,204.77 L506.32,204.77 L506.42,204.77 L506.52,204.77 L506.62,204.77 L506.72,204.77 L506.82,204.77 L506.92,204.77 L507.02,204.77 L507.11,204.78 L507.21,204.78 L507.31,204.78 L507.41,204.78 L507.51,204.78 L507.61,204.78 L507.70,204.78 L507.80,204.78 L507.90,204.78 L508.00,204.78 L508.09,204.78 L508.19,204.78 L508.29,204.78 L508.38,204.78 L508.48,204.78 L508.58,204.78 L508.67,204.78 L508.77,204.78 L508.86,204.78 L508.96,204.78 L509.06,204.78 L509.15,204.78 L509.25,204.78 L509.34,204.78 L509.44,204.78 L509.53,204.78 L509.63,204.78 L509.72,204.78 L509.82,204.78 L509.91,204.78 L510.01,204.78 L510.10,204.78 L510.20,204.79 L510.29,204.79 L510.38,204.79 L510.48,204.79 L510.57,204.79 L510.66,204.79 L510.76,204.79 L510.85,204.79 L510.94,204.79 L511.04,204.79 L511.13,204.79 L511.22,204.79 L511.32,204.79 L511.41,204.79 L511.50,204.79 L511.59,204.79 L511.69,204.79 L511.78,204.79 L511.87,204.79 L511.96,204.79 L512.05,204.79 L512.14,204.79 L512.24,204.79 L512.33,204.79 L512.42,204.79 L512.51,204.79 L512.60,204.79 L512.69,204.79 L512.78,204.79 L512.87,204.79 L512.96,204.79 L513.05,204.79 L513.14,204.79 L513.23,204.79 L513.32,204.79 L513.41,204.79 L513.50,204.79 L513.59,204.79 L513.68,204.79 L513.77,204.79 L513.86,204.79 L513.95,204.79 L514.04,204.79 L514.13,204.79 L514.22,204.79 L514.31,204.79 L514.40,204.79 L514.48,204.79 L514.57,204.79 L514.66,204.79 L514.75,204.79 L514.84,204.79 L514.93,204.79 L515.01,204.79 L515.10,204.79 L515.19,204.79 L515.28,204.79 L515.36,204.79 L515.45,204.79 L515.54,204.79 L515.63,204.79 L515.71,204.79 L515.80,204.79 L515.89,204.79 L515.97,204.79 L516.06,204.79 L516.15,204.79 L516.23,204.80 L516.32,204.80 L516.40,204.80 L516.49,204.80 L516.58,204.80 L516.66,204.80 L516.75,204.80 L516.83,204.80 L516.92,204.80 L517.00,204.80 L517.09,204.80 L517.17,204.80 L517.26,204.80 L517.34,204.80 L517.43,204.80 L517.51,204.80 L517.60,204.80 L517.68,204.80 L517.77,204.80 L517.85,204.80 L517.94,204.80 L518.02,204.80 L518.10,204.80 L518.19,204.80 L518.27,204.80 L518.36,204.80 L518.44,204.80 L518.52,204.80 L518.61,204.80 L518.69,204.80 L518.77,204.80 L518.86,204.80 L518.94,204.80 L519.02,204.80 L519.10,204.80 L519.19,204.80 L519.27,204.80 L519.35,204.80 L519.44,204.80 L519.52,204.80 L519.60,204.80 L519.68,204.80 L519.76,204.80 L519.85,204.80 L519.93,204.80 L520.01,204.80 L520.09,204.80 L520.17,204.80 L520.25,204.80 L520.34,204.80 L520.42,204.80 L520.50,204.80 L520.58,204.80 L520.66,204.80 L520.74,204.80 L520.82,204.80 L520.90,204.80 L520.98,204.80 L521.06,204.80 L521.14,204.80 L521.22,204.80 L521.30,204.80 L521.38,204.80 L521.46,204.80 L521.54,204.80 L521.62,204.80 L521.70,204.80 L521.78,204.80 L521.86,204.80 L521.94,204.80 L522.02,204.80 L522.10,204.80 L522.18,204.80 L522.26,204.80 L522.34,204.80 L522.42,204.80 L522.50,204.80 L522.58,204.80 L522.65,204.80 L522.73,204.80 L522.81,204.80 L522.89,204.80 L522.97,204.80 L523.05,204.80 L523.12,204.80 L523.20,204.80 L523.28,204.80 L523.36,204.80 L523.44,204.80 L523.51,204.80 L523.59,204.80 L523.67,204.80 L523.75,204.80 L523.82,204.80 L523.90,204.80 L523.98,204.80 L524.06,204.80 L524.13,204.80 L524.21,204.80 L524.29,204.80 L524.36,204.80 L524.44,204.80 L524.52,204.80 L524.59,204.80 L524.67,204.80 L524.75,204.80 L524.82,204.80 L524.90,204.80 L524.97,204.80 L525.05,204.80 L525.13,204.80 L525.20,204.80 L525.28,204.80 L525.35,204.80 L525.43,204.80 L525.50,204.80 L525.58,204.80 L525.65,204.80 L525.73,204.80 L525.81,204.80 L525.88,204.80 L525.96,204.80 L526.03,204.80 L526.11,204.80 L526.18,204.80 L526.25,204.80 L526.33,204.80 L526.40,204.80 L526.48,204.80 L526.55,204.80 L526.63,204.80 L526.70,204.80 L526.78,204.80 L526.85,204.80 L526.92,204.80 L527.00,204.80 L527.07,204.80 L527.14,204.80 L527.22,204.80 L527.29,204.80 L527.37,204.80 L527.44,204.80 L527.51,204.80 L527.59,204.80 L527.66,204.80 L527.73,204.80 L527.80,204.80 L527.88,204.80 L527.95,204.80 L528.02,204.80 L528.10,204.80 L528.17,204.80 L528.24,204.80 L528.31,204.80 L528.39,204.80 L528.46,204.80 L528.53,204.80 L528.60,204.80 L528.68,204.80 L528.75,204.80 L528.82,204.80 L528.89,204.80 L528.96,204.80 L529.03,204.80 L529.11,204.80 L529.18,204.80 L529.25,204.80 L529.32,204.80 L529.39,204.80 L529.46,204.80 L529.53,204.80 L529.61,204.80 L529.68,204.80 L529.75,204.80 L529.82,204.80 L529.89,204.80 L529.96,204.80 L530.03,204.80 L530.10,204.80 L530.17,204.80 L530.24,204.80 L530.31,204.80 L530.38,204.80 L530.45,204.80 L530.52,204.80 L530.59,204.80 L530.66,204.80 L530.73,204.80 L530.80,204.80 L530.87,204.80 L530.94,204.80 L531.01,204.80 L531.08,204.80 L531.15,204.80 L531.22,204.80 L531.29,204.80 L531.36,204.80 L531.43,204.80 L531.50,204.80" fill="none" stroke="#D95319" stroke-width="2.7" stroke-dasharray="8.7 8.9" stroke-linejoin="round"/>
<text transform="translate(46.30,212.45) scale(1,1.0)" font-size="17.9" text-anchor="end">0</text>
<text transform="translate(36.35,162.58) scale(1,1.0)" font-size="17.9" text-anchor="end">0.</text>
<path d="M372,0L283,0L283,486L111,486L111,551C201,563 229,585 252,698L372,698Z" transform="translate(36.35,162.58) scale(0.01790,-0.01790)" class="g"/>
<text transform="translate(46.30,112.70) scale(1,1.0)" font-size="17.9" text-anchor="end">0.2</text>
<text transform="translate(46.30,62.82) scale(1,1.0)" font-size="17.9" text-anchor="end">0.3</text>
<text transform="translate(46.30,12.95) scale(1,1.0)" font-size="17.9" text-anchor="end">0.4</text>
<path d="M372,0L283,0L283,486L111,486L111,551C201,563 229,585 252,698L372,698Z" transform="translate(39.30,235.00) scale(0.01790,-0.01790)" class="g"/>
<text transform="translate(49.25,235.00) scale(1,1.0)" font-size="17.9">0</text>
<text transform="translate(63.10,226.80) scale(1,1.03)" font-size="13.2" text-anchor="middle">0</text>
<path d="M372,0L283,0L283,486L111,486L111,551C201,563 229,585 252,698L372,698Z" transform="translate(198.63,235.00) scale(0.01790,-0.01790)" class="g"/>
<text transform="translate(208.58,235.00) scale(1,1.0)" font-size="17.9">0</text>
<path d="M372,0L283,0L283,486L111,486L111,551C201,563 229,585 252,698L372,698Z" transform="translate(218.46,226.80) scale(0.01320,-0.01360)" class="g"/>
<path d="M372,0L283,0L283,486L111,486L111,551C201,563 229,585 252,698L372,698Z" transform="translate(357.96,235.00) scale(0.01790,-0.01790)" class="g"/>
<text transform="translate(367.92,235.00) scale(1,1.0)" font-size="17.9">0</text>
<text transform="translate(381.77,226.80) scale(1,1.03)" font-size="13.2" text-anchor="middle">2</text>
<path d="M372,0L283,0L283,486L111,486L111,551C201,563 229,585 252,698L372,698Z" transform="translate(517.30,235.00) scale(0.01790,-0.01790)" class="g"/>
<text transform="translate(527.25,235.00) scale(1,1.0)" font-size="17.9">0</text>
<text transform="translate(541.10,226.80) scale(1,1.03)" font-size="13.2" text-anchor="middle">3</text>
<text transform="translate(232.20,259.30) scale(1,1.05)" font-size="17.9">LET (keV / &#181;m)</text>
<text transform="translate(12.4,146.8) rotate(-90) scale(1,1.05)" font-size="17.9">Probability</text>
<rect x="67.2" y="19.7" width="210.9" height="48.9" fill="#fff" stroke="#606060" stroke-width="1.3"/>
<path d="M74.8,32.8H121.4" stroke="#0072BD" stroke-width="2.7"/>
<path d="M76.5,54.6H121.5" stroke="#D95319" stroke-width="2.7" stroke-dasharray="8.7 8.9"/>
<text transform="translate(124.50,39.25) scale(1,0.98)" font-size="15.5" style="stroke-width:0.4px">Probability direct kill</text>
<text transform="translate(124.50,60.70) scale(1,0.98)" font-size="15.5" style="stroke-width:0.4px">Probability indirect kill</text>
</svg>
</body></html>
